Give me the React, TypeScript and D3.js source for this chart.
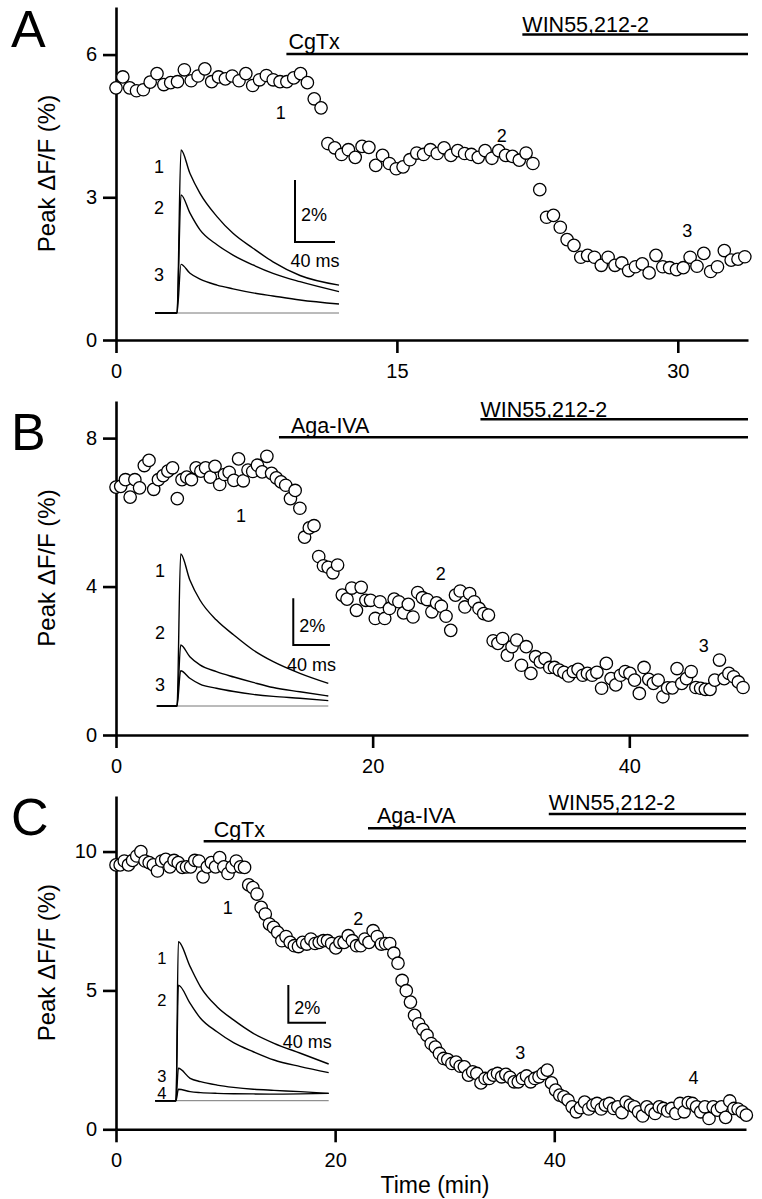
import React, { useEffect, useRef } from 'react';
import * as d3 from 'd3';

const FONT = '"Liberation Sans", Arial, Helvetica, sans-serif';

// Peak dF/F (%) per sweep, one value per sampling interval (~22 s)
const peakA = [
  5.30, 5.53, 5.30, 5.24, 5.26, 5.42, 5.60, 5.37, 5.41, 5.43,
  5.68, 5.45, 5.55, 5.70, 5.43, 5.53, 5.49, 5.55, 5.45, 5.60,
  5.35, 5.47, 5.56, 5.47, 5.43, 5.43, 5.51, 5.60, 5.41, 5.07,
  4.88, 4.13, 4.04, 3.90, 4.00, 3.84, 4.07, 4.05, 3.67, 3.88,
  3.71, 3.60, 3.64, 3.79, 3.93, 3.90, 4.00, 3.92, 4.04, 3.88,
  3.98, 3.92, 3.90, 3.84, 3.98, 3.82, 3.98, 3.88, 3.86, 3.78,
  3.93, 3.71, 3.16, 2.58, 2.62, 2.37, 2.11, 1.99, 1.74, 1.78,
  1.74, 1.57, 1.74, 1.57, 1.62, 1.46, 1.54, 1.60, 1.41, 1.78,
  1.54, 1.52, 1.48, 1.52, 1.74, 1.55, 1.82, 1.44, 1.54, 1.88,
  1.68, 1.70, 1.75,
];

const peakB = [
  6.68, 6.70, 6.88, 6.41, 6.88, 6.66, 7.26, 7.40, 6.62, 6.88,
  6.99, 7.11, 7.20, 6.37, 6.88, 6.95, 6.88, 7.20, 7.11, 7.20,
  6.95, 7.24, 6.75, 7.02, 7.08, 6.86, 7.44, 6.85, 7.14, 7.10,
  7.27, 7.09, 7.51, 7.05, 6.93, 6.82, 6.73, 6.37, 6.59, 6.11,
  5.33, 5.58, 5.64, 4.81, 4.56, 4.52, 4.37, 4.58, 3.77, 3.66,
  3.96, 3.36, 3.98, 3.63, 3.63, 3.14, 3.59, 3.14, 3.41, 3.66,
  3.59, 3.29, 3.52, 3.18, 3.84, 3.70, 3.65, 3.32, 3.56, 3.47,
  3.20, 2.82, 3.77, 3.88, 3.45, 3.81, 3.59, 3.41, 3.27, 3.23,
  2.54, 2.47, 2.60, 2.15, 2.38, 2.56, 1.88, 2.38, 1.66, 2.11,
  1.97, 2.06, 1.82, 1.82, 1.75, 1.69, 1.59, 1.71, 1.77, 1.61,
  1.66, 1.61, 1.69, 1.26, 1.93, 1.52, 1.35, 1.61, 1.71, 1.66,
  1.48, 1.12, 1.82, 1.50, 1.39, 1.48, 1.03, 1.27, 1.27, 1.79,
  1.39, 1.52, 1.71, 1.28, 1.26, 1.23, 1.23, 1.48, 2.02, 1.52,
  1.66, 1.57, 1.43, 1.28,
];

const peakC = [
  9.52, 9.52, 9.66, 9.52, 9.68, 9.84, 10.0, 9.66, 9.60, 9.52,
  9.30, 9.66, 9.72, 9.45, 9.68, 9.60, 9.43, 9.45, 9.45, 9.68,
  9.66, 9.09, 9.45, 9.60, 9.45, 9.78, 9.45, 9.21, 9.45, 9.66,
  9.45, 9.43, 8.80, 8.70, 8.47, 7.99, 7.75, 7.39, 7.27, 7.09,
  6.79, 6.94, 6.73, 6.61, 6.58, 6.73, 6.67, 6.85, 6.69, 6.73,
  6.79, 6.79, 6.69, 6.53, 6.73, 6.73, 6.97, 6.79, 6.61, 6.61,
  6.85, 6.73, 7.15, 6.94, 6.67, 6.69, 6.69, 6.34, 5.98, 5.36,
  4.99, 4.58, 4.10, 3.80, 3.59, 3.38, 3.09, 2.96, 2.73, 2.55,
  2.51, 2.37, 2.42, 2.27, 2.25, 1.95, 2.07, 2.01, 1.67, 1.83,
  1.83, 1.95, 2.01, 1.89, 1.98, 1.87, 1.71, 1.71, 1.83, 1.92,
  1.71, 1.83, 1.89, 2.01, 2.13, 1.67, 1.41, 1.23, 1.17, 1.05,
  0.81, 0.63, 0.78, 0.98, 0.73, 0.87, 0.93, 0.73, 0.87, 0.93,
  0.75, 0.81, 0.60, 0.98, 0.87, 0.81, 0.63, 0.48, 0.81, 0.69,
  0.57, 0.81, 0.75, 0.66, 0.75, 0.57, 0.93, 0.63, 0.96, 0.93,
  0.81, 0.63, 0.81, 0.39, 0.81, 0.69, 0.81, 0.43, 1.02, 0.75,
  0.73, 0.63, 0.51,
];

// sampling interval (min) for each experiment
const sampleMinA = 0.365;
const sampleMinB = 0.3674;
const sampleMinC = 0.3785;

const xTicksA = [0, 15, 30];
const xTicksB = [0, 20, 40];
const xTicksC = [0, 20, 40];
const yTicksA = [0, 3, 6];
const yTicksB = [0, 4, 8];
const yTicksC = [0, 5, 10];

// drug applications: name, start time (min)
const drugsA = [
  { name: 'CgTx', start: 9.1 },
  { name: 'WIN55,212-2', start: 21.7 },
];
const drugsB = [
  { name: 'Aga-IVA', start: 12.7 },
  { name: 'WIN55,212-2', start: 28.4 },
];
const drugsC = [
  { name: 'CgTx', start: 8.0 },
  { name: 'Aga-IVA', start: 23.0 },
  { name: 'WIN55,212-2', start: 39.5 },
];

// numbered time points on the time course: [label, min, %]
const marksA = [['1', 8.8, 4.78], ['2', 20.6, 4.3], ['3', 30.5, 2.31]];
const marksB = [['1', 9.74, 5.92], ['2', 25.3, 4.36], ['3', 45.8, 2.42]];
const marksC = [['1', 10.2, 7.98], ['2', 22.1, 7.58], ['3', 36.9, 2.77], ['4', 52.7, 1.88]];

// inset transients: time (ms from stimulus) and dF/F (%)
const insetTimeA = [-22, 0, 4, 13, 23, 40, 56, 76, 96, 123, 162];
const tracesA = [
  [0, 0, 5.26, 4.5, 3.86, 3.11, 2.57, 2.09, 1.65, 1.21, 0.90],
  [0, 0, 3.81, 3.22, 2.68, 2.20, 1.87, 1.55, 1.28, 1.01, 0.69],
  [0, 0, 1.57, 1.28, 1.09, 0.90, 0.78, 0.65, 0.55, 0.42, 0.29],
];
const insetTimeB = [-22, 0, 4, 14, 25, 43, 62, 83, 105, 134, 165];
const tracesB = [
  [0, 0, 6.51, 5.40, 4.54, 3.68, 3.04, 2.40, 1.90, 1.40, 0.97],
  [0, 0, 2.61, 2.11, 1.76, 1.47, 1.24, 1.01, 0.79, 0.61, 0.43],
  [0, 0, 1.51, 1.19, 0.94, 0.76, 0.62, 0.50, 0.41, 0.33, 0.23],
];
const insetTimeC = [-22, 0, 2.5, 15, 26, 43.5, 61, 82, 104, 132, 162];
const tracesC = [
  [0, 0, 8.44, 7.12, 6.05, 4.99, 4.29, 3.58, 3.05, 2.52, 1.95],
  [0, 0, 6.14, 5.17, 4.38, 3.66, 3.08, 2.60, 2.16, 1.81, 1.49],
  [0, 0, 1.72, 1.19, 1.01, 0.83, 0.71, 0.61, 0.55, 0.48, 0.39],
  [0, 0, 0.61, 0.48, 0.43, 0.39, 0.37, 0.36, 0.35, 0.36, 0.39],
];
const traceLabelsA = [4.71, 3.39, 1.23];
const traceLabelsB = [5.82, 3.13, 0.90];
const traceLabelsC = [7.58, 5.35, 1.32, 0.38];

const panels = [
  {
    letter: 'A', peaks: peakA, dt: sampleMinA, xTicks: xTicksA, yTicks: yTicksA,
    drugs: drugsA, marks: marksA,
    insetTime: insetTimeA, traces: tracesA, traceLabels: traceLabelsA,
    layout: {
      top: 7, bottom: 340, left: 116, right: 748, xMax: 33.75, yMax: 7, letterY: 47,
      barY: [47, 27.5], textDx: [2, 0], textDy: [-5, -2.5],
      inset: { stimX: 177, pxPerMs: 1.0, baseY: 313, pxPerPct: 31, barT: 118, barV: 2.29, labelT: -18, labelSize: 18 },
    },
  },
  {
    letter: 'B', peaks: peakB, dt: sampleMinB, xTicks: xTicksB, yTicks: yTicksB,
    drugs: drugsB, marks: marksB,
    insetTime: insetTimeB, traces: tracesB, traceLabels: traceLabelsB,
    layout: {
      top: 401, bottom: 735, left: 116, right: 748, xMax: 49.25, yMax: 9, letterY: 450,
      barY: [36.3, 18.3], textDx: [12, 0], textDy: [-4.3, -2.6],
      inset: { stimX: 177, pxPerMs: 0.917, baseY: 706, pxPerPct: 23.35, barT: 126.8, barV: 2.61, labelT: -18.5, labelSize: 18 },
    },
  },
  {
    letter: 'C', peaks: peakC, dt: sampleMinC, xTicks: xTicksC, yTicks: yTicksC,
    drugs: drugsC, marks: marksC,
    insetTime: insetTimeC, traces: tracesC, traceLabels: traceLabelsC,
    xLabel: 'Time (min)',
    layout: {
      top: 796, bottom: 1129.3, left: 116, right: 746, xMax: 57.5, yMax: 12, letterY: 835,
      barY: [45.3, 32.3, 18], textDx: [10, 9, 0], textDy: [-4.3, -5.3, -4],
      inset: { stimX: 176, pxPerMs: 0.9425, baseY: 1100.7, pxPerPct: 18.83, barT: 119.2, barV: 4.14, labelT: -15, labelSize: 16.5 },
    },
  },
];

function drawPanel(svg, p) {
  const L = p.layout;
  const g = svg.append('g');
  const x = d3.scaleLinear().domain([0, L.xMax]).range([L.left, L.right]);
  const y = d3.scaleLinear().domain([0, L.yMax]).range([L.bottom, L.top]);

  const yAxis = g.append('g')
    .attr('transform', `translate(${L.left},0)`)
    .call(d3.axisLeft(y).tickValues(p.yTicks).tickSize(13).tickSizeOuter(0).tickPadding(6).tickFormat(d3.format('d')));
  const xAxis = g.append('g')
    .attr('transform', `translate(0,${L.bottom})`)
    .call(d3.axisBottom(x).tickValues(p.xTicks).tickSize(13).tickSizeOuter(0).tickPadding(11).tickFormat(d3.format('d')));
  [yAxis, xAxis].forEach(a => {
    a.attr('font-family', FONT).attr('font-size', 20);
    a.selectAll('path, line').attr('stroke', '#000').attr('stroke-width', 2.6);
    a.selectAll('text').attr('fill', '#000');
  });

  // panel letter
  g.append('text')
    .attr('x', 11).attr('y', L.letterY)
    .attr('font-family', FONT).attr('font-size', 52)
    .text(p.letter);

  // y label
  g.append('text')
    .attr('transform', `translate(55,${y(L.yMax / 2)}) rotate(-90)`)
    .attr('text-anchor', 'middle')
    .attr('font-family', FONT).attr('font-size', 24)
    .text('Peak \u0394F/F (%)');

  if (p.xLabel) {
    g.append('text')
      .attr('x', (L.left + L.right) / 2 + 4).attr('y', L.bottom + 64)
      .attr('text-anchor', 'middle')
      .attr('font-family', FONT).attr('font-size', 23)
      .text(p.xLabel);
  }

  // drug bars
  p.drugs.forEach((d, i) => {
    const by = L.top + L.barY[i];
    g.append('line')
      .attr('x1', x(d.start)).attr('x2', L.right)
      .attr('y1', by).attr('y2', by)
      .attr('stroke', '#000').attr('stroke-width', 2.6);
    g.append('text')
      .attr('x', x(d.start) + L.textDx[i]).attr('y', by + L.textDy[i])
      .attr('font-family', FONT).attr('font-size', 21.5)
      .text(d.name);
  });

  // inset traces
  const ins = L.inset;
  const tx = t => ins.stimX + t * ins.pxPerMs;
  const ty = v => ins.baseY - v * ins.pxPerPct;
  const tEnd = p.insetTime[p.insetTime.length - 1];
  g.append('line')
    .attr('x1', tx(p.insetTime[0])).attr('x2', tx(tEnd))
    .attr('y1', ty(0)).attr('y2', ty(0))
    .attr('stroke', '#666').attr('stroke-width', 0.9);
  const line = d3.line()
    .x((d, i) => tx(p.insetTime[i]))
    .y(d => ty(d))
    .curve(d3.curveMonotoneX);
  p.traces.forEach(tr => {
    g.append('path')
      .attr('d', line(tr))
      .attr('fill', 'none').attr('stroke', '#000').attr('stroke-width', 1.4);
  });
  p.traceLabels.forEach((v, i) => {
    g.append('text')
      .attr('x', tx(ins.labelT)).attr('y', ty(v))
      .attr('dy', '0.36em')
      .attr('text-anchor', 'middle')
      .attr('font-family', FONT).attr('font-size', ins.labelSize)
      .text(String(i + 1));
  });
  // scale bar: 2 % and 40 ms
  const sx = tx(ins.barT), sy = ty(ins.barV);
  g.append('path')
    .attr('d', `M${sx},${ty(ins.barV + 2)}V${sy}H${tx(ins.barT + 40)}`)
    .attr('fill', 'none').attr('stroke', '#000').attr('stroke-width', 2);
  g.append('text')
    .attr('x', sx + 6).attr('y', (sy + ty(ins.barV + 2)) / 2 + 4)
    .attr('dy', '0.36em')
    .attr('font-family', FONT).attr('font-size', 18)
    .text('2%');
  g.append('text')
    .attr('x', (sx + tx(ins.barT + 40)) / 2).attr('y', sy + 19)
    .attr('dy', '0.36em')
    .attr('text-anchor', 'middle')
    .attr('font-family', FONT).attr('font-size', 18)
    .text('40 ms');

  // time course
  g.append('g')
    .selectAll('circle')
    .data(p.peaks)
    .enter().append('circle')
    .attr('cx', (d, i) => x(i * p.dt))
    .attr('cy', d => y(d))
    .attr('r', 6.2)
    .attr('fill', '#fff')
    .attr('stroke', '#000')
    .attr('stroke-width', 1.3);

  g.append('g')
    .selectAll('text')
    .data(p.marks)
    .enter().append('text')
    .attr('x', d => x(d[1]))
    .attr('y', d => y(d[2]))
    .attr('dy', '0.36em')
    .attr('text-anchor', 'middle')
    .attr('font-family', FONT).attr('font-size', 18)
    .text(d => d[0]);
}

const App = () => {
  const ref = useRef(null);

  useEffect(() => {
    const svg = d3.select(ref.current);
    svg.selectAll('*').remove();
    panels.forEach(p => drawPanel(svg, p));
  }, []);

  return (
    <div style={{ position: 'absolute', left: 0, top: 0, background: '#fff' }}>
      <svg ref={ref} width={762} height={1199} style={{ display: 'block' }} />
    </div>
  );
};

export default App;
